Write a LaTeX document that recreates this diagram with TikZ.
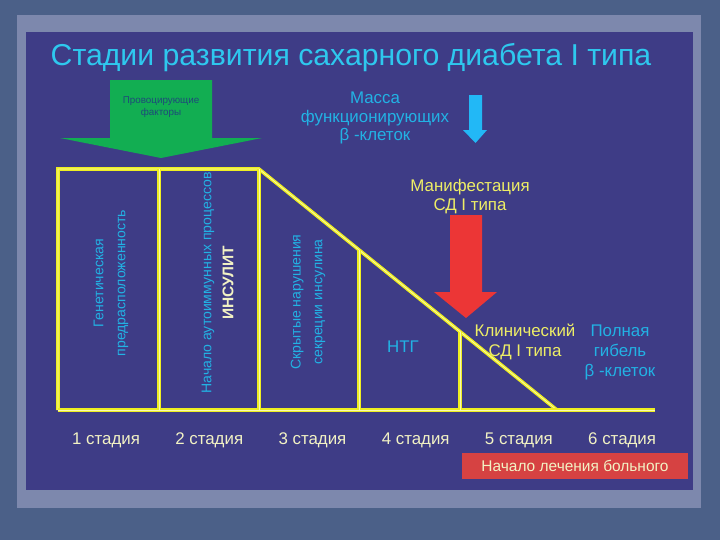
\documentclass[tikz,border=0pt]{standalone}
\usepackage{fontspec}
\setmainfont{Liberation Sans}
\usepackage{xcolor}
\usepackage{tikz}
\usetikzlibrary{positioning,calc}

\definecolor{outerbg}{HTML}{4B6088}
\definecolor{framebg}{HTML}{7D88AD}
\definecolor{panelbg}{HTML}{3E3C86}
\definecolor{titlecyan}{HTML}{2EC8EE}
\definecolor{textcyan}{HTML}{22B2E4}
\definecolor{lineyellow}{HTML}{EEEE22}
\definecolor{linepale}{HTML}{FAFAB0}
\definecolor{textyellow}{HTML}{EEEE66}
\definecolor{stagecol}{HTML}{F2F2C4}
\definecolor{greenarr}{HTML}{12AE52}
\definecolor{greentext}{HTML}{1E4A7A}
\definecolor{bluearr}{HTML}{22B8F6}
\definecolor{redarr}{HTML}{EC3636}
\definecolor{redbox}{HTML}{D64242}

\begin{document}
\begin{tikzpicture}[x=0.025cm, y=-0.025cm, auto]
    \tikzstyle{cyantext} = [text=textcyan, font=\fontsize{12}{13}\selectfont,
        align=center, inner sep=0pt]
    \tikzstyle{yellowtext} = [text=textyellow, font=\fontsize{12}{13.5}\selectfont,
        align=center, inner sep=0pt]
    \tikzstyle{upright} = [cyantext, rotate=90, font=\fontsize{10}{15.5}\selectfont]
    \tikzstyle{stage} = [text=stagecol, font=\fontsize{12}{14}\selectfont, inner sep=0pt]
    \tikzstyle{graphline} = [draw=lineyellow, line width=1pt, double=linepale,
        double distance=0.5pt]

    % background and slide panel
    \fill[outerbg] (0,0) rectangle (720,540);
    \fill[framebg] (17,15) rectangle (701,508);
    \fill[panelbg] (26,32) rectangle (693,490);
    \useasboundingbox (0,0) rectangle (720,540);

    \node [text=titlecyan, font=\fontsize{21.5}{25}\selectfont] (title) at (351,58)
        {Стадии развития сахарного диабета I типа};

    % block arrows
    \fill[greenarr] (110,80) -- (212,80) -- (212,138) -- (262,138) -- (161,158)
        -- (60,138) -- (110,138) -- cycle;
    \node [text=greentext, font=\fontsize{7}{8.5}\selectfont, align=center] (factors)
        at (161,107) {Провоцирующие\\факторы};
    \fill[bluearr] (469,95) -- (482,95) -- (482,130) -- (487,130) -- (475.5,143)
        -- (463,130) -- (469,130) -- cycle;
    \fill[redarr] (450,215) -- (482,215) -- (482,292) -- (497,292) -- (466,318)
        -- (434,292) -- (450,292) -- cycle;

    \node [cyantext] (mass) at (375,118) {Масса\\функционирующих\\β -клеток};
    \node [yellowtext] (manif) at (470,197) {Манифестация\\СД I типа};

    % stage graph
    \coordinate (o) at (58,410);
    \coordinate (a) at (58,169);
    \coordinate (b) at (259,169);
    \coordinate (e) at (557,410);
    \coordinate (end) at (655,410);
    \coordinate (d1) at (159,169);
    \coordinate (d3) at ($(b)!0.3356!(e)$);
    \coordinate (d4) at ($(b)!0.6745!(e)$);

    \path [graphline] (o) -- (a) -- (b) -- (e);
    \path [graphline] (o) -- (end);
    \path [graphline] (d1) -- (d1 |- o);
    \path [graphline] (b) -- (b |- o);
    \path [graphline] (d3) -- (d3 |- o);
    \path [graphline] (d4) -- (d4 |- o);

    \node [upright] (genetic) at (111,283) {Генетическая\\предрасположенность};
    \node [upright] (autoimm) at (208,283) {Начало аутоиммунных процессов};
    \node [upright, text=stagecol, font=\bfseries\fontsize{11}{13}\selectfont]
        (insulitis) at (228,283) {ИНСУЛИТ};
    \node [upright] (hidden) at (308,302) {Скрытые нарушения\\секреции инсулина};
    \node [cyantext] (ntg) at (403,347) {НТГ};
    \node [yellowtext, font=\fontsize{12}{14.2}\selectfont] (clinic) at (525,342)
        {Клинический\\СД I типа};
    \node [cyantext, font=\fontsize{12}{14.2}\selectfont] (death) at (620,352)
        {Полная\\гибель\\β -клеток};

    % stages
    \node [stage] (s1) at (106,440) {1 стадия};
    \node [stage, right of=s1, node distance=2.58cm] (s2) {2 стадия};
    \node [stage, right of=s2, node distance=2.58cm] (s3) {3 стадия};
    \node [stage, right of=s3, node distance=2.58cm] (s4) {4 стадия};
    \node [stage, right of=s4, node distance=2.58cm] (s5) {5 стадия};
    \node [stage, right of=s5, node distance=2.58cm] (s6) {6 стадия};

    \node [fill=redbox, text=stagecol, font=\fontsize{11}{13}\selectfont,
        minimum width=5.65cm, minimum height=0.63cm, inner sep=0pt]
        (therapy) at (575,466) {Начало лечения больного};
\end{tikzpicture}
\end{document}
